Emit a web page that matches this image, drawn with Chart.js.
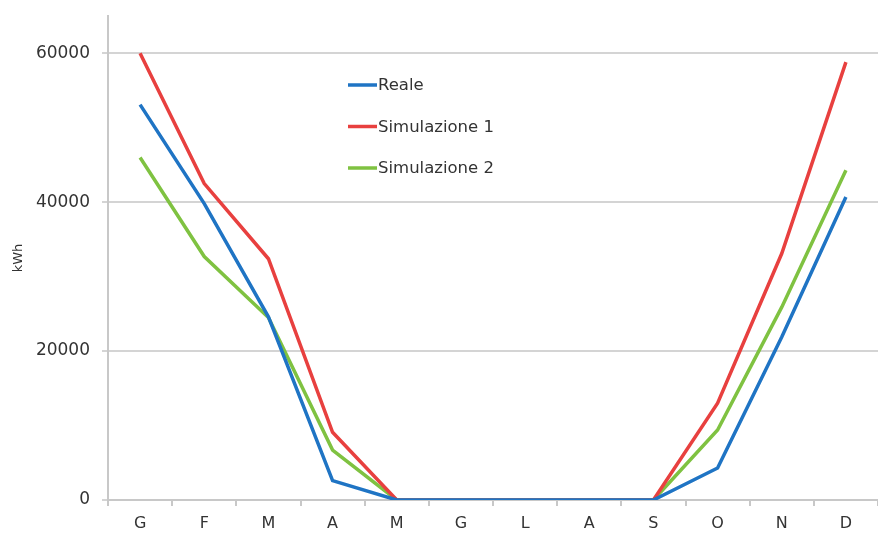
<!DOCTYPE html>
<html>
<head>
<meta charset="utf-8">
<script src="https://cdn.jsdelivr.net/npm/chart.js@4.4.0/dist/chart.umd.min.js"></script>
<style>
  html, body { margin: 0; padding: 0; background: #fff; }
  #wrap { width: 878px; height: 534px; }
</style>
</head>
<body>
<div id="wrap"><canvas id="kwhChart"></canvas></div>
<script>
var mesi = ['G', 'F', 'M', 'A', 'M', 'G', 'L', 'A', 'S', 'O', 'N', 'D'];
var reale = [53100, 39800, 24600, 2600, 0, 0, 0, 0, 0, 4300, 21900, 40700];
var simulazione1 = [60000, 42500, 32400, 9100, 0, 0, 0, 0, 0, 13000, 33100, 58800];
var simulazione2 = [46000, 32700, 24500, 6700, 0, 0, 0, 0, 0, 9400, 25900, 44300];
var yTicks = [0, 20000, 40000, 60000];

// legenda disegnata dentro il grafico, come nell'originale
var legendaInterna = {
    id: 'legendaInterna',
    afterDatasetsDraw: function (chart) {
        var ctx = chart.ctx;
        ctx.save();
        ctx.font = '16.5px "DejaVu Sans"';
        ctx.textBaseline = 'middle';
        chart.data.datasets.forEach(function (ds, i) {
            var y = 85 + i * 41.5;
            ctx.strokeStyle = ds.borderColor;
            ctx.lineWidth = 3.5;
            ctx.beginPath();
            ctx.moveTo(348, y);
            ctx.lineTo(377, y);
            ctx.stroke();
            ctx.fillStyle = '#333333';
            ctx.fillText(ds.label, 378, y + 1);
        });
        ctx.restore();
    }
};

var ctx = document.getElementById('kwhChart').getContext('2d');
var kwhChart = new Chart(ctx, {
    type: 'line',
    data: {
        labels: mesi,
        datasets: [
            { label: 'Reale', data: reale, borderColor: '#1f74c4' },
            { label: 'Simulazione 1', data: simulazione1, borderColor: '#e8403f' },
            { label: 'Simulazione 2', data: simulazione2, borderColor: '#7fc241' }
        ]
    },
    options: {
        responsive: true,
        maintainAspectRatio: false,
        animation: false,
        layout: { padding: { top: 16, right: 0, left: 11, bottom: 0 } },
        elements: {
            line: { borderWidth: 3.5, tension: 0 },
            point: { radius: 0 }
        },
        plugins: {
            legend: { display: false },
            tooltip: { enabled: false }
        },
        scales: {
            x: {
                offset: true,
                grid: { offset: true, drawOnChartArea: false, tickLength: 6, color: '#c8c8c8', lineWidth: 2 },
                border: { color: '#c8c8c8', width: 2 },
                ticks: { color: '#333333', font: { family: 'DejaVu Sans', size: 16 }, padding: 8 },
                afterFit: function (scale) { scale.height = 34; }
            },
            y: {
                min: 0,
                max: 65000,
                afterBuildTicks: function (scale) {
                    scale.ticks = yTicks.map(function (v) { return { value: v }; });
                },
                grid: { color: '#d4d4d4', lineWidth: 2, tickLength: 6 },
                border: { color: '#c8c8c8', width: 2 },
                ticks: {
                    color: '#333333',
                    font: { family: 'DejaVu Sans', size: 17 },
                    padding: 12,
                    callback: function (v) { return String(v); }
                },
                title: { display: true, text: 'kWh', color: '#333333', font: { family: 'DejaVu Sans', size: 13 }, padding: 0 },
                afterFit: function (scale) {
                    scale.width = 97;
                    scale.paddingTop = 0;
                    scale.paddingBottom = 0;
                }
            }
        }
    },
    plugins: [legendaInterna]
});
</script>
</body>
</html>
